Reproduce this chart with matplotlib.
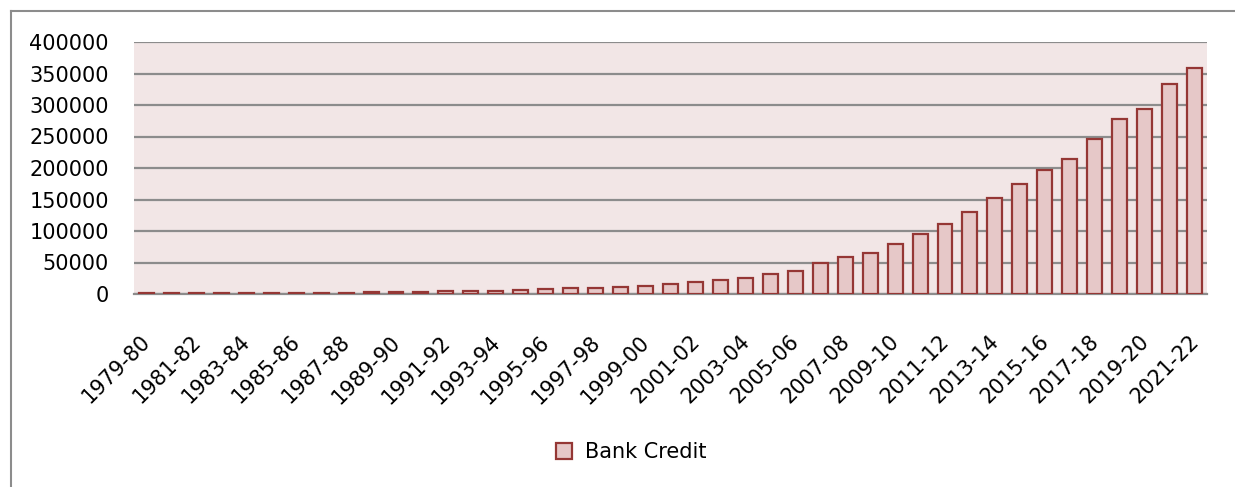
import matplotlib
matplotlib.use("Agg")
import matplotlib.pyplot as plt
from matplotlib.lines import Line2D
from matplotlib.transforms import ScaledTranslation

years = [f"{y}-{str(y + 1)[-2:]}" for y in range(1979, 2022)]
bank_credit = [
    1000, 1100, 1200, 1300, 1400, 1600, 1800, 2000, 2300, 2600,
    3000, 3500, 4200, 4800, 5500, 6500, 7400, 9000, 10000, 11600,
    13000, 15300, 18500, 21700, 25000, 31600, 36400, 49000, 58000, 64800,
    79700, 95500, 111800, 130700, 152900, 175000, 197000, 214000, 246600, 277000,
    294000, 332600, 358000,
]
y_ticks = list(range(0, 400001, 50000))

plt.rcParams["font.family"] = ["DejaVu Sans"]
FS = 15

fig = plt.figure(figsize=(12.35, 4.87), dpi=100)
ax = fig.add_axes([134 / 1235, 1 - 294 / 487, (1207 - 134) / 1235, (294 - 42) / 487])

fill = "#E6C8C8"
edge = "#953735"
ax.set_facecolor("#F2E6E6")

x = list(range(len(years)))
ax.bar(x, bank_credit, width=0.6, color=fill, edgecolor=edge, linewidth=1.6,
       label="Bank Credit", zorder=3)

ax.set_xlim(-0.5, len(years) - 0.5)
ax.set_ylim(0, 400000)
ax.set_yticks(y_ticks)
ax.set_yticklabels([str(v) for v in y_ticks], fontsize=FS)
ax.yaxis.grid(True, color="#8C8C8C", linewidth=1.6, zorder=1)
ax.set_axisbelow(True)

ax.set_xticks(x[::2])
ax.set_xticklabels(years[::2], rotation=45, ha="right", rotation_mode="anchor",
                   fontsize=FS)
ax.tick_params(axis="both", length=0)
ax.tick_params(axis="x", pad=27)
ax.tick_params(axis="y", pad=18)
shift = ScaledTranslation(-6 / 100, 0, fig.dpi_scale_trans)
for lbl in ax.get_xticklabels():
    lbl.set_transform(lbl.get_transform() + shift)

for side in ("top", "right", "left"):
    ax.spines[side].set_visible(False)
ax.spines["bottom"].set_color("#8C8C8C")
ax.spines["bottom"].set_linewidth(1.6)

fig.legend(loc="center", bbox_to_anchor=(631 / 1235, 1 - 452 / 487), frameon=False,
           fontsize=FS, handlelength=0.77, handleheight=0.77, handletextpad=0.62)

# chart-area frame: top and left edges (the rest runs off the canvas)
frame_x = 10.5 / 1235
frame_y = 1 - 11 / 487
fig.add_artist(Line2D([frame_x, 1.0], [frame_y, frame_y], transform=fig.transFigure,
                      color="#8C8C8C", linewidth=1.5))
fig.add_artist(Line2D([frame_x, frame_x], [0.0, frame_y], transform=fig.transFigure,
                      color="#8C8C8C", linewidth=1.5))

fig.savefig("out.png", dpi=100)
